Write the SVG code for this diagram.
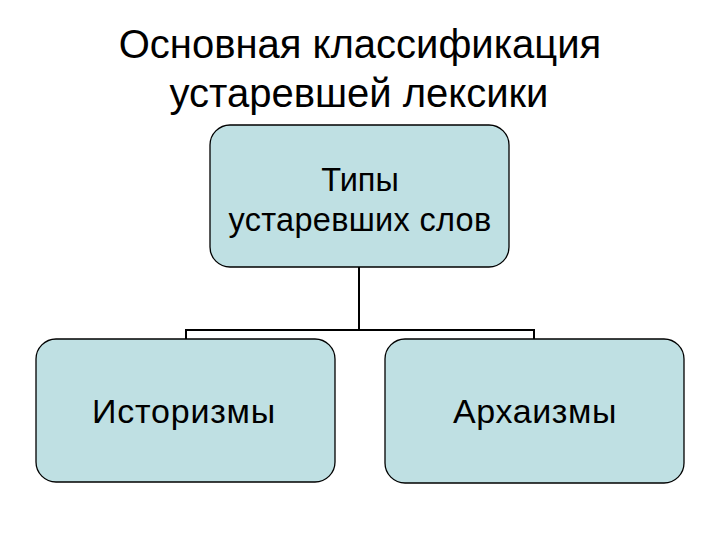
<svg xmlns="http://www.w3.org/2000/svg" width="720" height="540" viewBox="0 0 720 540">
<style>
.box{fill:#bfe0e3;stroke:#000;stroke-width:1.3}
.t{font-family:"Liberation Sans",Arial,sans-serif;fill:#000;text-anchor:middle}
.title{font-size:40px}
.lbl{font-size:32.5px}
.lbl2{font-size:34px}
.con{fill:none;stroke:#000;stroke-width:2}
</style>
<rect width="720" height="540" fill="#fff"/>
<g id="title">
<text class="t title" x="360" y="58">Основная классификация</text>
<text class="t title" x="359" y="107">устаревшей лексики</text>
</g>
<g id="connectors">
<path class="con" d="M359,267 V330 M186,339 V330 H534 V339"/>
</g>
<g id="root">
<rect class="box" x="210" y="125" width="299" height="142" rx="20"/>
<text class="t lbl" x="360" y="191">Типы</text>
<text class="t lbl" x="360" y="231" letter-spacing="0.3">устаревших слов</text>
</g>
<g id="historisms">
<rect class="box" x="36" y="339" width="299" height="143" rx="20"/>
<text class="t lbl2" x="184" y="423" letter-spacing="0.8">Историзмы</text>
</g>
<g id="archaisms">
<rect class="box" x="385" y="339" width="299" height="144" rx="20"/>
<text class="t lbl2" x="535" y="423" letter-spacing="0.6">Архаизмы</text>
</g>
</svg>
